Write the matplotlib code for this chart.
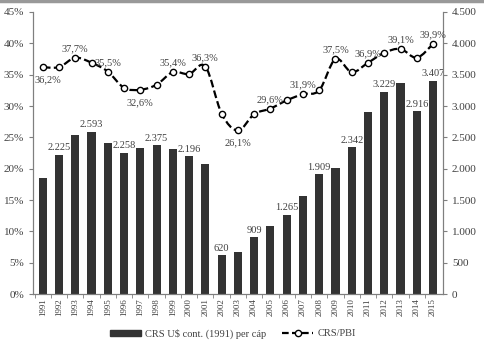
import matplotlib.pyplot as plt
from matplotlib.lines import Line2D
from matplotlib.patches import Rectangle, PathPatch
from matplotlib.path import Path

plt.rcParams['font.family'] = ['Liberation Serif', 'DejaVu Serif']

years = list(range(1991, 2016))
crs_percap = [1850, 2225, 2530, 2593, 2405, 2258, 2333, 2375, 2315, 2196,
              2075, 620, 670, 909, 1085, 1265, 1560, 1909, 2015, 2342,
              2910, 3229, 3370, 2916, 3407]
crs_pbi = [36.2, 36.2, 37.7, 36.9, 35.5, 32.9, 32.6, 33.4, 35.4, 35.1,
           36.3, 28.8, 26.1, 28.7, 29.6, 30.9, 31.9, 32.5, 37.5, 35.4,
           36.9, 38.5, 39.1, 37.7, 39.9]
bar_labelled = [1992, 1994, 1996, 1998, 2000, 2002, 2004, 2006, 2008, 2010, 2012, 2014, 2015]
line_above = [1993, 1995, 1999, 2001, 2005, 2007, 2009, 2011, 2013, 2015]
line_below = [1991, 1997, 2003]

grey = '#7f7f7f'
txt = '#404040'


def miles(v):
    return f'{v:,.0f}'.replace(',', '.')


def smooth_path(xs, ys):
    # Catmull-Rom style bezier through the points (like a "smoothed line")
    verts = [(xs[0], ys[0])]
    codes = [Path.MOVETO]
    n = len(xs)
    for i in range(n - 1):
        x0, y0 = (xs[i - 1], ys[i - 1]) if i > 0 else (xs[i], ys[i])
        x3, y3 = (xs[i + 2], ys[i + 2]) if i + 2 < n else (xs[i + 1], ys[i + 1])
        x1, y1 = xs[i], ys[i]
        x2, y2 = xs[i + 1], ys[i + 1]
        c1 = (x1 + (x2 - x0) / 6, y1 + (y2 - y0) / 6)
        c2 = (x2 - (x3 - x1) / 6, y2 - (y3 - y1) / 6)
        verts += [c1, c2, (x2, y2)]
        codes += [Path.CURVE4] * 3
    return Path(verts, codes)


fig = plt.figure(figsize=(4.85, 3.42), dpi=100)
ax = fig.add_axes([0.068, 0.140, 0.845, 0.825])
ax2 = ax.twinx()

x = list(range(len(years)))
ax2.bar(x, crs_percap, width=0.5, color='#333333', zorder=1)
ax2.set_ylim(0, 4500)
ax2.set_yticks(range(0, 4501, 500))
ax2.set_yticklabels([miles(v) for v in range(0, 4501, 500)])

ax.set_zorder(ax2.get_zorder() + 1)
ax.patch.set_visible(False)
ax.add_patch(PathPatch(smooth_path(x, crs_pbi), fill=False, edgecolor='black',
                       lw=1.6, linestyle=(0, (3.5, 1.5))))
ax.plot(x, crs_pbi, linestyle='none', marker='o', markersize=4.5,
        markerfacecolor='white', markeredgecolor='black', markeredgewidth=1.0)
ax.set_ylim(0, 45)
ax.set_yticks(range(0, 46, 5))
ax.set_yticklabels([f'{v}%' for v in range(0, 46, 5)])
ax.set_xlim(-0.6, len(years) - 0.4)
ax.set_xticks(x)
ax.set_xticklabels([str(y) for y in years], rotation=90, fontsize=6.5, color=txt)
ax.set_xticks([i + 0.5 for i in x[:-1]] + [-0.5], minor=True)
ax.tick_params(axis='x', which='major', length=0, pad=3)
ax.tick_params(axis='x', which='minor', length=3, color=grey)

for a in (ax, ax2):
    for s in a.spines.values():
        s.set_color(grey)
    a.spines['top'].set_visible(False)
    a.tick_params(axis='y', labelsize=8, labelcolor=txt, color=grey, length=3)

for yr in bar_labelled:
    i = years.index(yr)
    ax2.text(i, crs_percap[i] + 40, miles(crs_percap[i]), ha='center', va='bottom',
             fontsize=7.5, color=txt)

for yr in line_above:
    i = years.index(yr)
    ax.text(i, crs_pbi[i] + 0.7, f'{crs_pbi[i]:.1f}%'.replace('.', ','),
            ha='center', va='bottom', fontsize=7.5, color=txt)
for yr in line_below:
    i = years.index(yr)
    ax.text(i + (0.3 if i == 0 else 0), crs_pbi[i] - 1.3, f'{crs_pbi[i]:.1f}%'.replace('.', ','),
            ha='center', va='top', fontsize=7.5, color=txt)

handles = [Rectangle((0, 0), 1, 1, color='#333333'),
           Line2D([], [], color='black', linestyle=(0, (3, 1.5)), lw=1.6, marker='o',
                  markersize=4.5, markerfacecolor='white', markeredgecolor='black')]
fig.legend(handles, ['CRS U$ cont. (1991) per cáp', 'CRS/PBI'], loc='center',
           bbox_to_anchor=(0.48, 0.025), ncol=2, frameon=False, fontsize=7.5,
           handlelength=3, handleheight=0.5, columnspacing=1.5, handletextpad=0.4,
           labelcolor=txt)

fig.add_artist(Line2D([0, 1], [0.996, 0.996], color='#999999', lw=2.5,
                      transform=fig.transFigure))

fig.savefig('out.png', dpi=100)
